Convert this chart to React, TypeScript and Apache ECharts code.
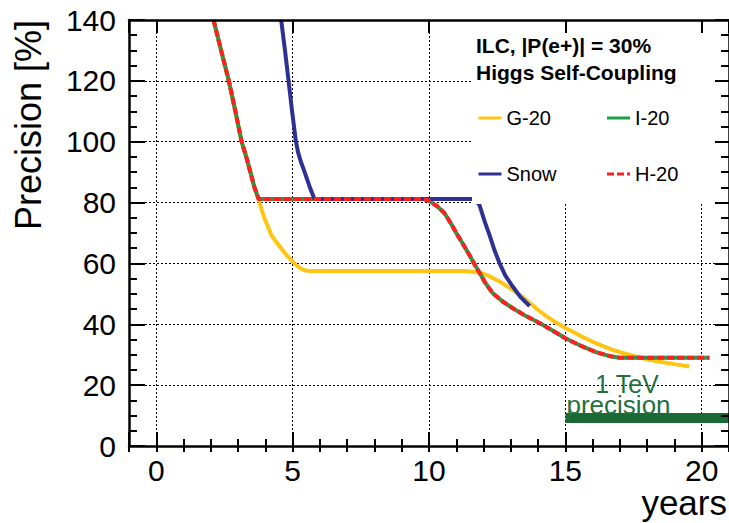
import React, { useEffect, useRef } from 'react';
import * as echarts from 'echarts';

const FONT = '"Liberation Sans", Arial, Helvetica, sans-serif';

// ---- data ----
const xTickLabels = [0, 5, 10, 15, 20];
const legendNames = ['G-20', 'I-20', 'Snow', 'H-20'];

const g20: [number, number][] = [
  [2.1, 140], [2.35, 131], [2.66, 120], [2.9, 110], [3.13, 100], [3.3, 95], [3.45, 90], [3.6, 85], [3.75, 81.2],
  [3.85, 78], [3.97, 74.8], [4.1, 72], [4.22, 69.3], [4.4, 67], [4.58, 65], [4.75, 63], [4.95, 61.1],
  [5.15, 59.3], [5.32, 58.2], [5.5, 57.6], [5.7, 57.5], [11.3, 57.5], [11.7, 57.2], [12.0, 56.6],
  [12.2, 55.9], [12.6, 54], [13.07, 51.3], [13.4, 49.2], [13.7, 47], [14.0, 44.7], [14.3, 42.7],
  [14.65, 40.6], [15.04, 38.6], [15.6, 36], [16.14, 33.7], [16.7, 31.7], [17.36, 29.9], [17.9, 28.7],
  [18.45, 27.7], [19.0, 26.9], [19.55, 26.1],
];

const i20: [number, number][] = [
  [2.1, 140], [2.35, 131], [2.66, 120], [2.9, 110], [3.13, 100], [3.3, 95], [3.45, 90], [3.6, 85], [3.75, 81.2],
  [9.8, 81.2], [10.0, 80.6], [10.3, 78.8], [10.57, 76.5], [10.8, 73.2], [11.0, 70], [11.25, 66.3],
  [11.48, 62.8], [11.65, 60], [11.85, 57], [12.05, 53.8], [12.33, 50.3], [12.7, 47.5], [13.07, 45.3],
  [13.5, 43], [14.05, 40.4], [14.5, 38.1], [15.0, 35.4], [15.6, 32.8], [16.14, 30.8], [16.6, 29.6],
  [16.98, 29], [20.28, 29],
];

const h20: [number, number][] = [
  [2.1, 140], [2.35, 131], [2.66, 120], [2.9, 110], [3.13, 100], [3.3, 95], [3.45, 90], [3.6, 85], [3.75, 81.2],
  [9.8, 81.2], [10.0, 80.6], [10.3, 78.8], [10.57, 76.5], [10.8, 73.2], [11.0, 70], [11.25, 66.3],
  [11.48, 62.8], [11.65, 60], [11.85, 57], [12.05, 53.8], [12.33, 50.3], [12.7, 47.5], [13.07, 45.3],
  [13.5, 43], [14.05, 40.4], [14.5, 38.1], [15.0, 35.4], [15.6, 32.8], [16.14, 30.8], [16.6, 29.6],
  [16.98, 29], [20.28, 29],
];

const snow: [number, number][] = [
  [4.58, 140], [4.72, 130], [4.85, 120], [4.98, 110], [5.12, 100], [5.2, 96.5], [5.3, 93.5], [5.44, 90],
  [5.62, 85.3], [5.8, 81.2], [11.6, 81.2], [11.72, 80.6], [11.85, 79.2], [12.05, 73.6], [12.22, 69.3],
  [12.4, 64.4], [12.58, 60.2], [12.8, 56], [13.07, 52.4], [13.35, 49], [13.69, 46],
];

const teVPrecision: [number, number][] = [[15, 9.2], [21, 9.2]];

const COLORS = {
  g20: '#FFC512',
  i20: '#1E9E4A',
  snow: '#2E3192',
  h20: '#FF1F1F',
  tev: '#1B6A35',
  tevText: '#23703C',
};

const gridLine = {
  show: true,
  showMinLine: false,
  showMaxLine: false,
  lineStyle: { color: '#000', width: 1, type: [2, 2] as number[] },
};
const axisLineStyle = { show: true, onZero: false, lineStyle: { color: '#000', width: 2.5 } };
const tickStyle = { color: '#000', width: 2 };

const xBase = { type: 'value' as const, min: -1, max: 21 };
const yBase = { type: 'value' as const, min: 0, max: 140, interval: 20 };

const xLabelFormatter = (v: number) => (xTickLabels.indexOf(v) >= 0 ? String(v) : '');

function buildOption(): any {
  const lineSeries = (name: string, data: [number, number][], color: string, extra: any = {}) => ({
    type: 'line',
    name,
    data,
    xAxisIndex: 0,
    yAxisIndex: 0,
    symbol: 'none',
    smooth: false,
    color,
    lineStyle: { color, width: 4, ...extra },
    emphasis: { disabled: true },
    silent: true,
  });

  return {
    animation: false,
    backgroundColor: '#fff',
    grid: { left: 129, right: 0, top: 20, bottom: 77, outerBoundsMode: 'none' },
    xAxis: [
      { ...xBase, position: 'bottom', splitLine: gridLine, axisLine: { show: false }, axisTick: { show: false }, axisLabel: { show: false }, z: 0 },
      {
        ...xBase, position: 'bottom', axisLine: axisLineStyle,
        axisTick: { show: true, inside: true, length: 14, lineStyle: tickStyle },
        axisLabel: { show: true, fontSize: 30, fontFamily: FONT, color: '#000', margin: 9, formatter: xLabelFormatter },
        splitLine: { show: false }, z: 10,
      },
      {
        ...xBase, interval: 1, position: 'bottom', axisLine: { show: false },
        axisTick: { show: true, inside: true, length: 7, lineStyle: tickStyle },
        axisLabel: { show: false }, splitLine: { show: false }, z: 10,
      },
      {
        ...xBase, position: 'top', axisLine: axisLineStyle,
        axisTick: { show: true, inside: true, length: 13, lineStyle: tickStyle },
        axisLabel: { show: false }, splitLine: { show: false }, z: 10,
      },
      {
        ...xBase, interval: 1, position: 'top', axisLine: { show: false },
        axisTick: { show: true, inside: true, length: 6, lineStyle: tickStyle },
        axisLabel: { show: false }, splitLine: { show: false }, z: 10,
      },
    ],
    yAxis: [
      { ...yBase, position: 'left', splitLine: gridLine, axisLine: { show: false, onZero: false }, axisTick: { show: false }, axisLabel: { show: false }, z: 0 },
      {
        ...yBase, position: 'left', axisLine: axisLineStyle,
        axisTick: { show: true, inside: true, length: 16, lineStyle: tickStyle },
        minorTick: { show: true, splitNumber: 4, length: 8, lineStyle: tickStyle },
        axisLabel: { show: true, fontSize: 30, fontFamily: FONT, color: '#000', margin: 13 },
        splitLine: { show: false }, z: 10,
      },
      {
        ...yBase, position: 'right', axisLine: axisLineStyle,
        axisTick: { show: true, inside: true, length: 14, lineStyle: tickStyle },
        minorTick: { show: true, splitNumber: 4, length: 8, lineStyle: tickStyle },
        axisLabel: { show: false }, splitLine: { show: false }, z: 10,
      },
    ],
    title: {
      text: 'ILC, |P(e+)| = 30%\nHiggs Self-Coupling',
      left: 476,
      top: 32,
      padding: 0,
      textStyle: { fontSize: 21, fontWeight: 'bold', fontFamily: FONT, color: '#000', lineHeight: 27 },
      z: 20,
    },
    legend: {
      data: legendNames,
      left: 477,
      top: 100,
      orient: 'horizontal',
      width: 240,
      padding: 0,
      itemGap: 20,
      itemWidth: 23,
      itemHeight: 14,
      selectedMode: false,
      itemStyle: { opacity: 0 },
      lineStyle: { width: 3 },
      textStyle: { fontSize: 20, fontFamily: FONT, color: '#000', width: 79, lineHeight: 36 },
      z: 20,
    },
    graphic: [
      { type: 'rect', shape: { x: 472, y: 21, width: 257, height: 183 }, style: { fill: '#fff' }, z: 5, silent: true },
      {
        type: 'text', x: 627, y: 383.5, z: 6,
        style: { text: '1 TeV', fontSize: 25, lineHeight: 19, fontFamily: FONT, fill: COLORS.tevText, textAlign: 'center', textVerticalAlign: 'middle' },
      },
      {
        type: 'text', x: 566.5, y: 405, z: 6,
        style: { text: 'precision', fontSize: 26, lineHeight: 18, fontFamily: FONT, fill: COLORS.tevText, textAlign: 'left', textVerticalAlign: 'middle' },
      },
      {
        type: 'text', x: 727, y: 502.5, z: 6,
        style: { text: 'years', fontSize: 35, lineHeight: 26, fontFamily: FONT, fill: '#000', textAlign: 'right', textVerticalAlign: 'middle' },
      },
      {
        type: 'text', x: 28.8, y: 20, rotation: Math.PI / 2, z: 6,
        style: { text: 'Precision [%]', fontSize: 36, fontFamily: FONT, fill: '#000', textAlign: 'right', textVerticalAlign: 'middle' },
      },
    ],
    series: [
      lineSeries('G-20', g20, COLORS.g20),
      lineSeries('I-20', i20, COLORS.i20),
      lineSeries('Snow', snow, COLORS.snow),
      lineSeries('H-20', h20, COLORS.h20, { type: [7, 3] }),
      { ...lineSeries('1 TeV precision', teVPrecision, COLORS.tev), lineStyle: { color: COLORS.tev, width: 10, cap: 'butt' } },
    ],
  };
}

export default function App() {
  const ref = useRef<HTMLDivElement>(null);
  useEffect(() => {
    if (!ref.current) return;
    const chart = echarts.init(ref.current, null, { renderer: 'svg' });
    chart.setOption(buildOption());
    return () => chart.dispose();
  }, []);
  return (
    <div
      ref={ref}
      style={{ position: 'fixed', left: 0, top: 0, width: 729, height: 523, background: '#fff' }}
    />
  );
}
